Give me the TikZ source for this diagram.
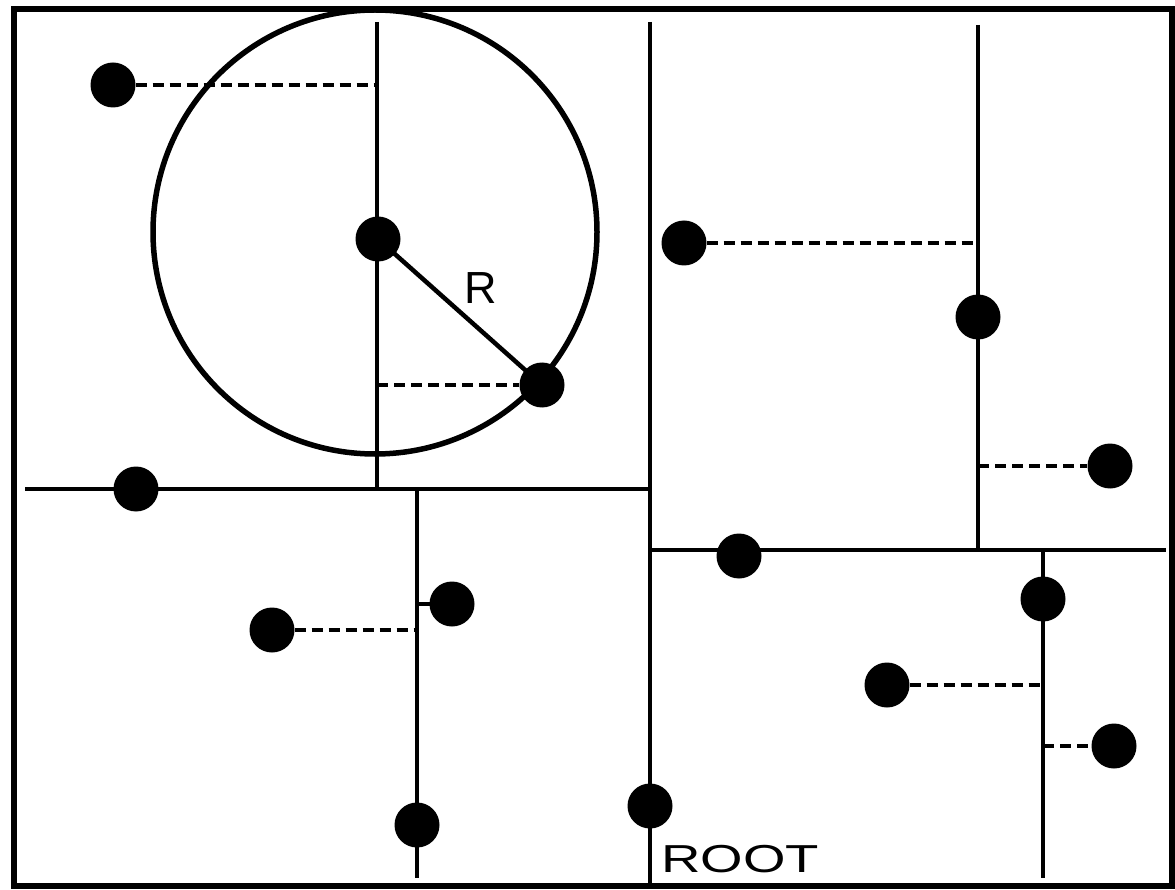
\documentclass[tikz,border=0pt]{standalone}
\usepackage{fontspec}
\newfontfamily\labelfont{Liberation Sans}
\newfontfamily\widefont[FakeStretch=1.4]{Liberation Sans}
\begin{document}
\begin{tikzpicture}[x=1pt,y=-1pt,
  pt/.style={circle,fill=black,inner sep=0pt,minimum size=45pt},
  split/.style={line width=4.5pt},
  proj/.style={line width=4pt,dash pattern=on 11pt off 6pt},
  frame/.style={line width=6pt},
  ring/.style={circle,draw=black,line width=5.5pt,inner sep=0pt,minimum size=444pt}]
\useasboundingbox (0,0) rectangle (1175,890);
% frame
\draw[frame] (14,9) rectangle (1172,886);
% split line end points
\coordinate (v1t) at (377,22);
\coordinate (v1b) at (377,489);
\coordinate (h1l) at (25,489);
\coordinate (h1r) at (650,489);
\coordinate (v2t) at (417,489);
\coordinate (v2b) at (417,878);
\coordinate (vmt) at (650,22);
\coordinate (vmb) at (650,886);
\coordinate (v3t) at (978,25);
\coordinate (v3b) at (978,550);
\coordinate (h2l) at (650,550);
\coordinate (h2r) at (1166,550);
\coordinate (v4t) at (1043,550);
\coordinate (v4b) at (1043,878);
% circle
\node[ring] (rng) at (375,232) {};
% points
\node[pt] (p1) at (113,85) {};
\node[pt] (p2) at (378,239) {};
\node[pt] (p3) at (542,385) {};
\node[pt] (p4) at (136,489) {};
\node[pt] (p5) at (452,604) {};
\node[pt] (p6) at (272,630) {};
\node[pt] (p7) at (417,825) {};
\node[pt] (p8) at (650,806) {};
\node[pt] (p9) at (684,243) {};
\node[pt] (p10) at (978,317) {};
\node[pt] (p11) at (1110,466) {};
\node[pt] (p12) at (739,556) {};
\node[pt] (p13) at (1043,599) {};
\node[pt] (p14) at (887,685) {};
\node[pt] (p15) at (1114,746) {};
% split lines
\draw[split] (v1t) -- (v1b);
\draw[split] (h1l) -- (h1r);
\draw[split] (v2t) -- (v2b);
\draw[split] (vmt) -- (vmb);
\draw[split] (v3t) -- (v3b);
\draw[split] (h2l) -- (h2r);
\draw[split] (v4t) -- (v4b);
\draw[split] (p5.center -| v2t) -- (p5.center);
% radius
\draw[split] (p2.center) -- (p3.center);
% projections
\draw[proj] (p1.east) -- (p1.center -| v1t);
\draw[proj] (p3.center -| v1t) -- (p3.west);
\draw[proj] (p6.east) -- (p6.center -| v2t);
\draw[proj] (p9.east) -- (p9.center -| v3t);
\draw[proj] (p11.center -| v3t) -- (p11.west);
\draw[proj] (p14.east) -- (p14.center -| v4t);
\draw[proj] (p15.center -| v4t) -- (p15.west);
% labels
\node[inner sep=0pt,font=\labelfont\fontsize{45}{45}\selectfont] (lr) at (481,288) {R};
\node[inner sep=0pt,font=\widefont\fontsize{39}{39}\selectfont] (lroot) at (740,859) {ROOT};
\end{tikzpicture}
\end{document}
